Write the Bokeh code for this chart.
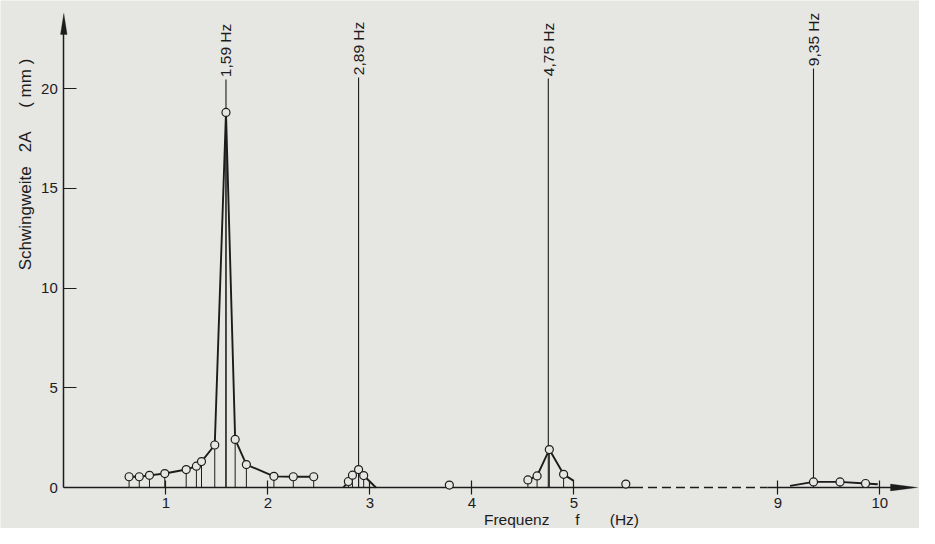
import math
from bokeh.plotting import figure
from bokeh.models import LinearAxis, FixedTicker, Label, PolyAnnotation, Range1d
from bokeh.embed import file_html
from bokeh.resources import INLINE
from bokeh.core.properties import value

# ---------------- data (frequency in Hz, double amplitude 2A in mm) ----------------
# resonance near 1.59 Hz: measured points
f1 = [0.64, 0.74, 0.84, 0.99, 1.20, 1.30, 1.35, 1.48, 1.59, 1.68, 1.79, 2.06, 2.25, 2.45]
a1 = [0.54, 0.54, 0.61, 0.70, 0.90, 1.07, 1.30, 2.13, 18.8, 2.41, 1.15, 0.56, 0.54, 0.54]

# resonance near 2.89 Hz
f2 = [2.79, 2.83, 2.89, 2.94]
a2 = [0.30, 0.62, 0.90, 0.60]
f2_curve = [2.74, 2.79, 2.83, 2.89, 2.94, 3.06]
a2_curve = [0.00, 0.30, 0.62, 0.90, 0.60, 0.00]

# resonance near 4.75 Hz
f3 = [4.55, 4.64, 4.76, 4.90]
a3 = [0.38, 0.58, 1.90, 0.66]
f3_curve = [4.55, 4.64, 4.76, 4.90, 5.00]
a3_curve = [0.38, 0.58, 1.90, 0.66, 0.33]

# resonance near 9.35 Hz
f4 = [9.35, 9.61, 9.86]
a4 = [0.28, 0.28, 0.20]
f4_curve = [9.12, 9.35, 9.61, 9.86, 9.98]
a4_curve = [0.08, 0.28, 0.28, 0.20, 0.16]

# isolated measurements
f_iso = [3.78, 5.51]
a_iso = [0.12, 0.17]

# marked resonance frequencies
peak_f = [1.59, 2.89, 4.75, 9.35]
peak_top = [20.45, 20.55, 20.5, 21.0]
peak_labels = ["1,59 Hz", "2,89 Hz", "4,75 Hz", "9,35 Hz"]

x_tick_values = [1, 2, 3, 4, 5, 9, 10]
x_tick_labels = ["1", "2", "3", "4", "5", "9", "10"]
y_tick_values = [0, 5, 10, 15, 20]
y_tick_labels = ["0", "5", "10", "15", "20"]

# broken frequency axis: the section 9..10 Hz is drawn shifted left by 2 Hz
BREAK_AT = 8.0
BREAK_SHIFT = 2.0


def disp(f):
    return f - BREAK_SHIFT if f >= BREAK_AT else f


def dl(fs):
    return [disp(v) for v in fs]


# ---------------- styling / geometry ----------------
BG = "#e6e6e3"
INK = "#1c1c1c"
FONT = "Liberation Sans"
W, H = 919, 528
PX_X = 102.0   # pixels per Hz
PX_Y = 19.95   # pixels per mm
X0 = 63.3      # px of f = 0
Y0 = 487.0     # px (from top) of 2A = 0

x_start, x_end = -X0 / PX_X, (W - X0) / PX_X
y_start, y_end = -(H - Y0) / PX_Y, Y0 / PX_Y

p = figure(width=W, height=H, x_range=Range1d(x_start, x_end), y_range=Range1d(y_start, y_end),
           output_backend="svg", toolbar_location=None, x_axis_type=None, y_axis_type=None,
           min_border=0, background_fill_color=BG, border_fill_color=BG, outline_line_color=None)

# axes
xax = LinearAxis(fixed_location=0,
                 ticker=FixedTicker(ticks=[disp(v) for v in x_tick_values]),
                 major_label_overrides={disp(v): l for v, l in zip(x_tick_values, x_tick_labels)},
                 axis_line_color=None, major_tick_in=7, major_tick_out=7,
                 major_tick_line_color=INK, major_tick_line_width=1.2,
                 minor_tick_line_color=None, major_label_standoff=3,
                 major_label_text_font=FONT, major_label_text_font_size="15px",
                 major_label_text_color=INK)
p.add_layout(xax, "below")

yax = LinearAxis(fixed_location=0, bounds=(0, 22.9),
                 ticker=FixedTicker(ticks=y_tick_values),
                 major_label_overrides={v: l for v, l in zip(y_tick_values, y_tick_labels)},
                 axis_line_color=INK, axis_line_width=1.5,
                 major_tick_in=13, major_tick_out=0,
                 major_tick_line_color=INK, major_tick_line_width=1.2,
                 minor_tick_line_color=None, major_label_standoff=6,
                 major_label_text_font=FONT, major_label_text_font_size="15px",
                 major_label_text_color=INK)
p.add_layout(yax, "left")

# frequency axis line: solid, dashed break, solid, arrow head
tip_x = (917 - X0) / PX_X
p.line([0, 5.59], [0, 0], line_color=INK, line_width=1.5)
p.line([5.59, 6.90], [0, 0], line_color=INK, line_width=1.5, line_dash="9 5")
p.line([6.90, tip_x - 20 / PX_X], [0, 0], line_color=INK, line_width=1.5)
p.add_layout(PolyAnnotation(xs=[tip_x, tip_x - 27 / PX_X, tip_x - 27 / PX_X],
                            ys=[0, 3.4 / PX_Y, -3.4 / PX_Y],
                            fill_color=INK, fill_alpha=1, line_color=INK, line_width=1))
tip_y = (Y0 - 13) / PX_Y
p.add_layout(PolyAnnotation(xs=[0, -3.3 / PX_X, 3.3 / PX_X],
                            ys=[tip_y, tip_y - 21 / PX_Y, tip_y - 21 / PX_Y],
                            fill_color=INK, fill_alpha=1, line_color=INK, line_width=1))

# drop lines under every measured point
for fs, as_ in [(f1, a1), (f2, a2), (f3, a3), (f4, a4)]:
    p.segment(x0=dl(fs), y0=[0] * len(fs), x1=dl(fs), y1=as_, line_color=INK, line_width=1)

# resonance marker lines and labels
p.segment(x0=dl(peak_f), y0=[0] * len(peak_f), x1=dl(peak_f), y1=peak_top,
          line_color=INK, line_width=1.1)
p.text(x=dl(peak_f), y=[t + 0.12 for t in peak_top], text=peak_labels, angle=math.pi / 2,
       text_align="left", text_baseline="middle", text_font=value(FONT),
       text_font_size="15.5px", text_color=INK)

# response curves
for fs, as_ in [(f1, a1), (f2_curve, a2_curve), (f3_curve, a3_curve), (f4_curve, a4_curve)]:
    p.line(dl(fs), as_, line_color=INK, line_width=1.9, line_join="round")

# measured points (open circles)
for fs, as_ in [(f1, a1), (f2, a2), (f3, a3), (f4, a4), (f_iso, a_iso)]:
    p.scatter(dl(fs), as_, marker="circle", size=8, fill_color=BG, line_color=INK, line_width=1.2)

# axis titles
NB = "\u00a0"
p.add_layout(Label(x=(25 - X0) / PX_X, y=(Y0 - 164) / PX_Y,
                   text="Schwingweite" + NB * 3 + "2A" + NB * 5 + "(" + NB + "mm" + NB + ")",
                   angle=math.pi / 2, text_align="center", text_baseline="middle",
                   text_font=FONT, text_font_size="17px", text_color=INK))
p.add_layout(Label(x=(561 - X0) / PX_X, y=(Y0 - 519) / PX_Y,
                   text="Frequenz" + NB * 6 + "f" + NB * 7 + "(Hz)",
                   text_align="center", text_baseline="middle",
                   text_font=FONT, text_font_size="15.5px", text_color=INK))

open("out.html", "w").write(file_html(p, INLINE))
